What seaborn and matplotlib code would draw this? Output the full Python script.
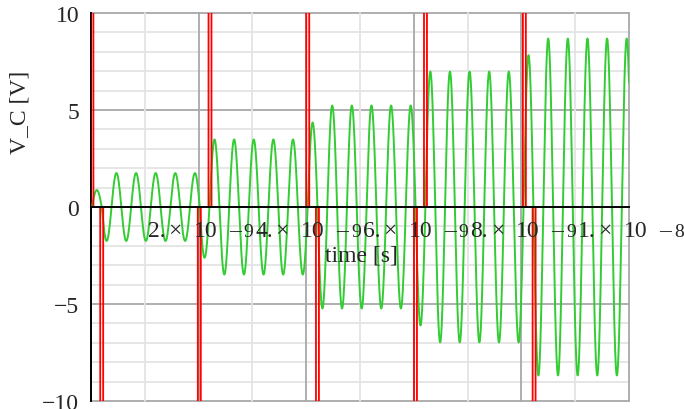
import numpy as np
import pandas as pd
import matplotlib
matplotlib.use("Agg")
import matplotlib.pyplot as plt
import seaborn as sns

# ---- data ----
# current pulse (kick) times in ns and their signs
spike_times_ns = [0.017, 0.199, 2.013, 2.212, 4.029, 4.209, 6.031, 6.217, 8.055, 8.236]
spike_signs = [1, -1, -1, 1, 1, -1, -1, 1, 1, -1]
kick_strength_V = 0.875      # voltage step of one kick (first peak ~0.9 V)
period_ns = 0.3647           # oscillation period read from peak spacing

x_major_ns = [2, 4, 6, 8, 10]
x_tick_mantissa = ["2.", "4.", "6.", "8.", "1."]
x_tick_exponent = ["9", "9", "9", "9", "8"]
y_major = [-10, -5, 0, 5, 10]
y_major_labels = ["\u221210", "\u22125", "0", "5", "10"]

# ---- build series (LC impulse response to the read kicks) ----
t_ns = np.linspace(0, 10, 8001)
v = np.zeros_like(t_ns)
for ti, si in zip(spike_times_ns, spike_signs):
    v += np.where(t_ns >= ti, si * kick_strength_V * np.sin(2 * np.pi * (t_ns - ti) / period_ns), 0.0)
green_df = pd.DataFrame({"t": t_ns * 1e-9, "v": v})

half_w = 0.028
apex = 400.0
rows = []
for k, (ti, si) in enumerate(zip(spike_times_ns, spike_signs)):
    rows += [(k, (ti - half_w) * 1e-9, 0.0), (k, ti * 1e-9, si * apex), (k, (ti + half_w) * 1e-9, 0.0)]
red_df = pd.DataFrame(rows, columns=["id", "t", "v"])

# ---- style ----
sns.set_style("white")
plt.rcParams["font.family"] = ["Liberation Serif", "DejaVu Serif"]
FS = 17
plt.rcParams["font.size"] = FS

fig = plt.figure(figsize=(6.84, 4.10), dpi=100)
ax = fig.add_axes([91 / 684, 1 - 402 / 410, (629 - 91) / 684, (402 - 14) / 410])
ax.set_xlim(0, 1e-8)
ax.set_ylim(-10, 10)

major_c = "#a8a8a8"
minor_c = "#e4e4e4"
for yv in range(-10, 11):
    if yv == 0:
        continue
    ax.axhline(yv, color=major_c if yv % 5 == 0 else minor_c, lw=1.3, zorder=0, clip_on=False)
for xv in range(1, 11):
    ax.axvline(xv * 1e-9, color=major_c if xv % 2 == 0 else minor_c, lw=1.3, zorder=0, clip_on=False)

sns.lineplot(data=green_df, x="t", y="v", color="#33cc33", lw=1.4, ax=ax, zorder=3)
sns.lineplot(data=red_df, x="t", y="v", units="id", estimator=None, sort=False,
             color="#ff0000", lw=1.3, ax=ax, zorder=4)

for s in ["top", "right"]:
    ax.spines[s].set_visible(False)
ax.spines["left"].set_color("black")
ax.spines["left"].set_linewidth(1.4)
ax.spines["left"].set_zorder(2)
ax.spines["bottom"].set_position(("data", 0))
ax.spines["bottom"].set_color("black")
ax.spines["bottom"].set_linewidth(1.4)
ax.spines["bottom"].set_zorder(5)

ax.set_yticks(y_major)
ax.set_yticklabels(y_major_labels)
ax.set_yticks(np.arange(-10, 11, 1), minor=True)
ax.tick_params(axis="y", which="major", direction="out", length=7, width=1.1, color="black", pad=1.5, labelsize=FS)
ax.tick_params(axis="y", which="minor", direction="out", length=3.5, width=1.1, color="black")

ax.set_xticks([xv * 1e-9 for xv in x_major_ns])
ax.set_xticklabels([""] * len(x_major_ns))
ax.set_xticks([xv * 1e-9 for xv in range(1, 11, 2)], minor=True)
ax.tick_params(axis="x", which="major", direction="out", length=4.5, width=1.1, color="black")
ax.tick_params(axis="x", which="minor", direction="out", length=3, width=1.1, color="black")

px = 0.72  # points per pixel
base_y = -29 * px
for xv, m, e in zip(x_major_ns, x_tick_mantissa, x_tick_exponent):
    xy = (xv * 1e-9, 0)
    kw = dict(xy=xy, textcoords="offset points", va="baseline", annotation_clip=False, zorder=6)
    ax.annotate(m, xytext=(-51 * px, base_y), ha="left", fontsize=FS, **kw)
    ax.annotate("\u00d7", xytext=(-24 * px, base_y), ha="center", fontsize=FS, **kw)
    ax.annotate("10", xytext=(-5 * px, base_y), ha="left", fontsize=FS, **kw)
    ax.annotate("\u2013", xytext=(36 * px, base_y), ha="center", fontsize=FS, **kw)
    ax.annotate(e, xytext=(45 * px, base_y), ha="left", fontsize=14, **kw)

ax.set_xlabel("")
ax.set_ylabel("")
fig.text(361 / 684, 1 - 256 / 410, "time [s]", ha="center", va="center", fontsize=FS)
fig.text(20 / 684, 1 - 112 / 410, "V_C [V]", ha="center", va="center", rotation=90, fontsize=FS)

fig.savefig("out.png", dpi=100)
